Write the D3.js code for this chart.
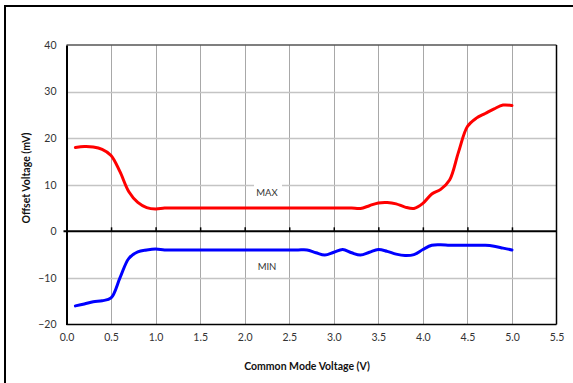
<!DOCTYPE html>
<html><head><meta charset="utf-8">
<script src="https://cdn.jsdelivr.net/npm/d3@7"></script>
<style>
html,body{margin:0;padding:0;background:#fff;}
svg{display:block;font-family:Lato,"Open Sans",sans-serif;}
</style></head>
<body>
<svg id="chart" width="573" height="383"></svg>
<script>
const xValues = [0.1,0.2,0.3,0.4,0.5,0.6,0.7,0.8,0.9,1.0,1.1,1.2,1.3,1.4,1.5,1.6,1.7,1.8,1.9,2.0,2.1,2.2,2.3,2.4,2.5,2.6,2.7,2.8,2.9,3.0,3.1,3.2,3.3,3.4,3.5,3.6,3.7,3.8,3.9,4.0,4.1,4.2,4.3,4.4,4.5,4.6,4.7,4.8,4.9,5.0];
const maxValues = [18.0,18.2,18.1,17.6,16.3,12.8,8.5,6.2,5.1,4.8,5.0,5.0,5.0,5.0,5.0,5.0,5.0,5.0,5.0,5.0,5.0,5.0,5.0,5.0,5.0,5.0,5.0,5.0,5.0,5.0,5.0,5.0,4.9,5.5,6.1,6.2,5.9,5.2,4.9,6.0,8.0,9.0,11.0,17.0,22.5,24.3,25.3,26.3,27.1,27.0];
const minValues = [-16.0,-15.6,-15.1,-14.9,-14.3,-10.0,-5.8,-4.4,-4.0,-3.8,-4.0,-4.0,-4.0,-4.0,-4.0,-4.0,-4.0,-4.0,-4.0,-4.0,-4.0,-4.0,-4.0,-4.0,-4.0,-4.0,-4.0,-4.6,-5.1,-4.5,-3.9,-4.6,-5.1,-4.5,-3.9,-4.3,-4.9,-5.2,-5.0,-3.9,-3.0,-2.9,-3.0,-3.0,-3.0,-3.0,-3.0,-3.2,-3.6,-4.0];
const xTicks = [0,0.5,1,1.5,2,2.5,3,3.5,4,4.5,5,5.5];
const yTicks = [-20,-10,0,10,20,30,40];
const xTitle = "Common Mode Voltage (V)";
const yTitle = "Offset Voltage (mV)";
const seriesLabels = ["MAX","MIN"];

const svg = d3.select("#chart");
const L = 66.5, R = 556.5, T = 45, B = 324.5;
const x = d3.scaleLinear().domain([0,5.5]).range([L,R]);
const y = d3.scaleLinear().domain([-20,40]).range([B,T]);

// outer frame
svg.append("rect").attr("x",5).attr("y",6).attr("width",600).attr("height",400)
  .attr("fill","none").attr("stroke","#000").attr("stroke-width",2);

// gridlines
const grid = svg.append("g");
grid.selectAll("line.v").data(xTicks.filter(d=>d>0 && d<5.5)).enter().append("line")
  .attr("x1",d=>Math.round(x(d))+0.5).attr("x2",d=>Math.round(x(d))+0.5)
  .attr("y1",T).attr("y2",B).attr("stroke","#a8a8a8").attr("stroke-width",1);
grid.selectAll("line.h").data(yTicks.filter(d=>d!==0 && d!==40 && d!==-20)).enter().append("line")
  .attr("x1",L).attr("x2",R).attr("y1",d=>Math.round(y(d))+0.5).attr("y2",d=>Math.round(y(d))+0.5)
  .attr("stroke","#c4c4c4").attr("stroke-width",1.5);

// plot border
svg.append("line").attr("x1",L).attr("x2",R).attr("y1",T).attr("y2",T).attr("stroke","#555").attr("stroke-width",1.5);
svg.append("line").attr("x1",R).attr("x2",R).attr("y1",T).attr("y2",B).attr("stroke","#000").attr("stroke-width",1.5);
svg.append("line").attr("x1",L).attr("x2",R).attr("y1",B).attr("y2",B).attr("stroke","#000").attr("stroke-width",1.5);

// y axis
const yAxis = d3.axisLeft(y).tickValues(yTicks).tickSize(0).tickPadding(10).tickFormat(d3.format("d"));
const yg = svg.append("g").attr("transform",`translate(${L},0)`).call(yAxis);
yg.select(".domain").attr("stroke","#000").attr("stroke-width",2);
yg.selectAll("text").attr("font-size",10.5).attr("fill","#333").attr("font-family","Lato, sans-serif");

// x axis tick labels (at bottom)
const xAxis = d3.axisBottom(x).tickValues(xTicks).tickSize(0).tickPadding(9).tickFormat(d3.format(".1f"));
const xg = svg.append("g").attr("transform",`translate(0,${B})`).call(xAxis);
xg.select(".domain").remove();
xg.selectAll("text").attr("font-size",10.5).attr("fill","#333").attr("font-family","Lato, sans-serif");

// zero line with ticks
const zg = svg.append("g").attr("transform",`translate(0,${y(0)})`)
  .call(d3.axisTop(x).tickValues(xTicks.filter(d=>d>0 && d<5.5)).tickSize(4).tickFormat(""));
zg.select(".domain").attr("d",`M${L-3},0H${R}`).attr("stroke","#000").attr("stroke-width",2);
zg.selectAll(".tick line").attr("stroke","#000").attr("stroke-width",1.5);

// series labels
const lab = svg.append("g");
lab.append("rect").attr("x",254).attr("y",182).attr("width",28).attr("height",14).attr("fill","#fff");
lab.append("text").attr("x",267).attr("y",196).attr("text-anchor","middle").attr("font-size",9.5).attr("fill","#333").text(seriesLabels[0]);
lab.append("text").attr("x",267).attr("y",270).attr("text-anchor","middle").attr("font-size",9.5).attr("fill","#333").text(seriesLabels[1]);

// lines
const line = d3.line().curve(d3.curveCatmullRom.alpha(0.5));
svg.append("path").attr("d",line(xValues.map((v,i)=>[x(v),y(maxValues[i])])))
  .attr("fill","none").attr("stroke","#ff0000").attr("stroke-width",3).attr("stroke-linecap","round");
svg.append("path").attr("d",line(xValues.map((v,i)=>[x(v),y(minValues[i])])))
  .attr("fill","none").attr("stroke","#0000ff").attr("stroke-width",3).attr("stroke-linecap","round");

// titles
svg.append("text").attr("x",307).attr("y",370).attr("text-anchor","middle").attr("font-size",10.5)
  .attr("font-weight","bold").attr("fill","#111").text(xTitle);
svg.append("text").attr("transform","translate(30,178) rotate(-90)").attr("text-anchor","middle").attr("font-size",10.5)
  .attr("font-weight","bold").attr("fill","#111").text(yTitle);
</script>
</body></html>
